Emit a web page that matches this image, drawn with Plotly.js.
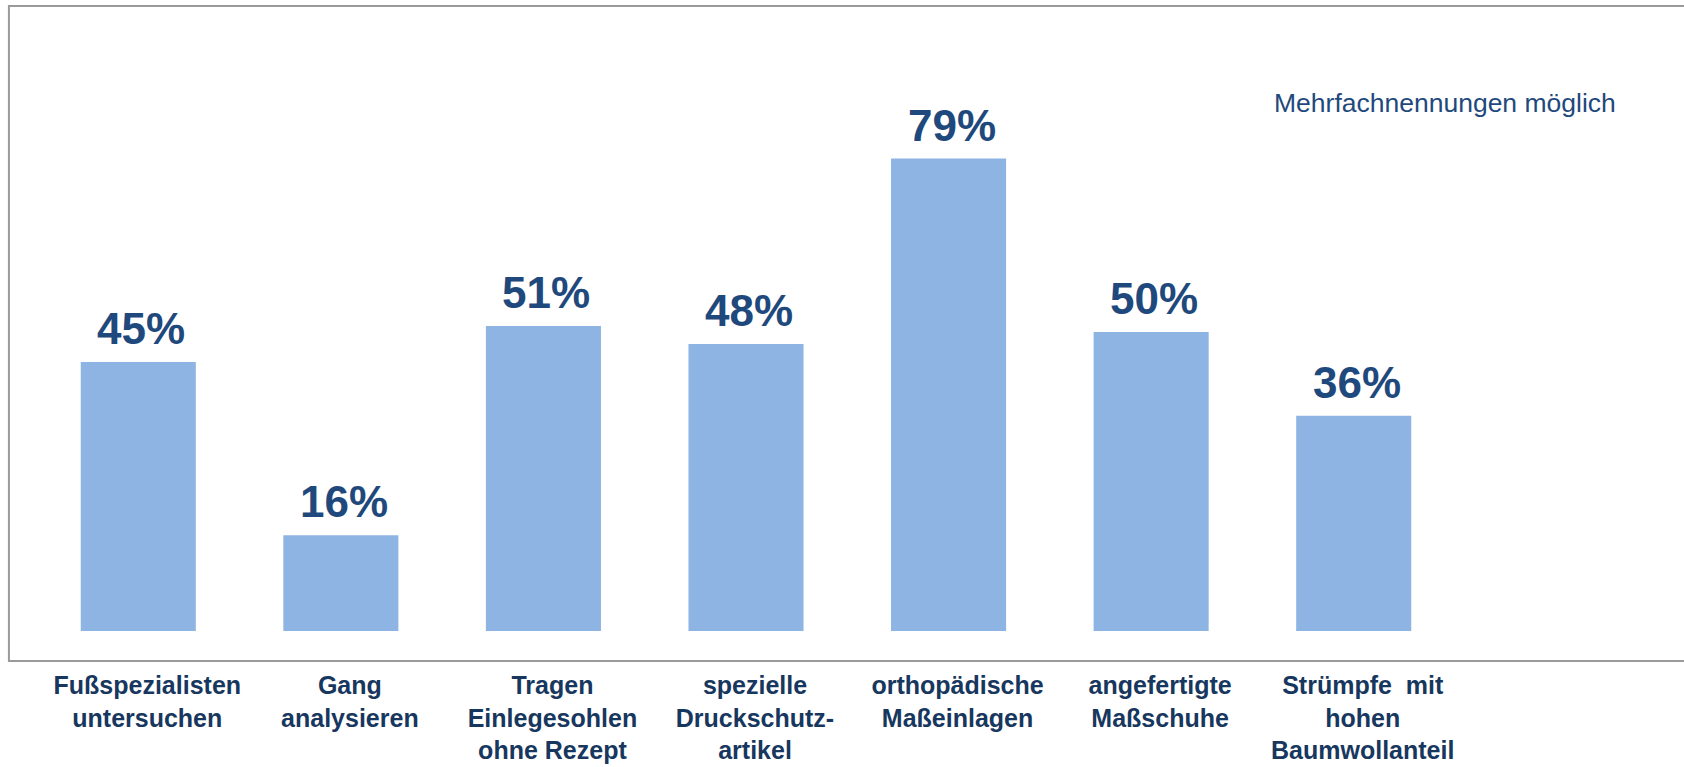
<!DOCTYPE html>
<html>
<head>
<meta charset="utf-8">
<script src="https://cdn.plot.ly/plotly-3.0.1.min.js"></script>
<style>html,body{margin:0;padding:0;background:#fff;}#chart{width:1684px;height:767px;}</style>
</head>
<body>
<div id="chart"></div>
<script>
const categories = ["Fußspezialisten untersuchen","Gang analysieren","Tragen Einlegesohlen ohne Rezept","spezielle Druckschutzartikel","orthopädische Maßeinlagen","angefertigte Maßschuhe","Strümpfe mit hohen Baumwollanteil"];
const tickLabels = ["Fußspezialisten<br>untersuchen","Gang<br>analysieren","Tragen<br>Einlegesohlen<br>ohne Rezept","spezielle<br>Druckschutz-<br>artikel","orthopädische<br>Maßeinlagen","angefertigte<br>Maßschuhe","Strümpfe\u00a0 mit<br>hohen<br>Baumwollanteil"];
const values = [45, 16, 51, 48, 79, 50, 36];
const valueLabels = ["45%","16%","51%","48%","79%","50%","36%"];
const noteText = "Mehrfachnennungen möglich";

const font = "Liberation Sans, Arial, sans-serif";
const trace = {
  type: "bar",
  x: categories,
  y: values,
  marker: {color: "#8EB4E3", line: {width: 0}},
  hoverinfo: "none"
};
const annotations = categories.map((c, i) => ({
  x: c, y: values[i], xref: "x", yref: "y",
  text: valueLabels[i], showarrow: false,
  yanchor: "bottom", xanchor: "center", yshift: 7, xshift: 3,
  font: {family: font, size: 44, weight: "bold", color: "#1F497D"}
}));
annotations.push({
  x: 0.871, y: 0.883, xref: "paper", yref: "paper",
  xanchor: "left", yanchor: "middle", showarrow: false,
  text: noteText,
  font: {family: font, size: 26.5, color: "#1F497D"}
});
const layout = {
  width: 1684, height: 767,
  margin: {l: 37, r: 229, t: 33, b: 136},
  paper_bgcolor: "#fff", plot_bgcolor: "#fff",
  bargap: 0.432,
  showlegend: false,
  xaxis: {
    type: "category", range: [-0.5, 6.5],
    tickvals: categories, ticktext: tickLabels,
    showline: false, showgrid: false, zeroline: false, ticks: "",
    ticklabelstandoff: 37, ticklabelshift: 9,
    tickfont: {family: font, size: 25, weight: "bold", color: "#17375E"}
  },
  yaxis: {range: [0, 100], visible: false, showgrid: false, zeroline: false},
  shapes: [{
    type: "rect", xref: "paper", yref: "paper",
    x0: -0.0198, x1: 1.2, y0: -0.0502, y1: 1.045,
    line: {color: "#9A9A9A", width: 2}, fillcolor: "rgba(0,0,0,0)", layer: "below"
  }],
  annotations: annotations
};
Plotly.newPlot("chart", [trace], layout, {displayModeBar: false, staticPlot: true});
</script>
</body>
</html>
